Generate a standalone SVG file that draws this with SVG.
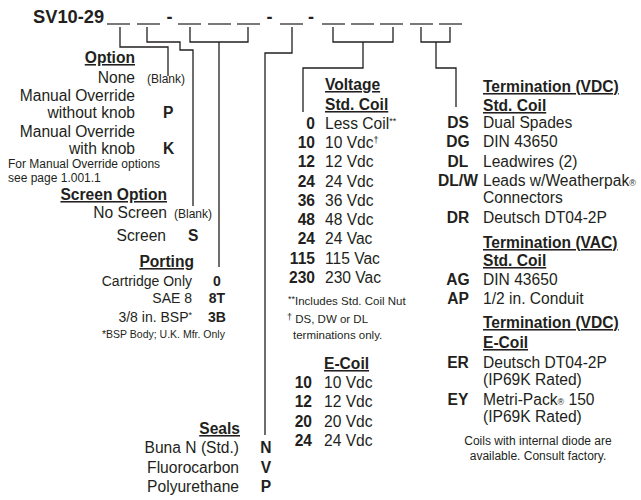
<svg xmlns="http://www.w3.org/2000/svg" width="641" height="500" viewBox="0 0 641 500">
<style>
text{font-family:"Liberation Sans",Arial,sans-serif;fill:#231f20;font-size:15.6px}
.b{font-weight:bold}
.h{font-weight:bold;text-decoration:underline}
.e{text-anchor:end}
.m{text-anchor:middle}
.s12{font-size:12px}
.s11{font-size:11.5px}
.s10{font-size:10.5px}
.p14{font-size:14px}
.sup{font-size:9px}
.ln{fill:none;stroke:#231f20;stroke-width:1.3}
.bl{stroke:#231f20;stroke-width:1.2}
</style>
<rect width="641" height="500" fill="#ffffff"/>
<g id="header">
<text x="33" y="22.5" class="b" style="font-size:18.3px">SV10-29</text>
<g class="bl">
<line x1="107" y1="24" x2="130" y2="24"/>
<line x1="137" y1="24" x2="160" y2="24"/>
<line x1="178" y1="24" x2="201" y2="24"/>
<line x1="208" y1="24" x2="231" y2="24"/>
<line x1="237" y1="24" x2="260" y2="24"/>
<line x1="280" y1="24" x2="303" y2="24"/>
<line x1="322" y1="24" x2="345" y2="24"/>
<line x1="351" y1="24" x2="374" y2="24"/>
<line x1="380" y1="24" x2="403" y2="24"/>
<line x1="410" y1="24" x2="433" y2="24"/>
<line x1="439" y1="24" x2="462" y2="24"/>
</g>
<text x="169.5" y="22.5" class="b m" style="font-size:18px">-</text>
<text x="269.5" y="22.5" class="b m" style="font-size:18px">-</text>
<text x="311" y="22.5" class="b m" style="font-size:18px">-</text>
</g>
<g id="connectors">
<path class="ln" d="M120,27 V47 H168 V76"/>
<path class="ln" d="M147,27 V42 H180 V50 H193 V206"/>
<path class="ln" d="M190,27 V42 H248 V27 M219,42 V267"/>
<path class="ln" d="M292,27 V53 H265 V435"/>
<path class="ln" d="M333,27 V42 H393 V27 M363,42 V68 H303 V112"/>
<path class="ln" d="M421,27 V42 H450 V27 M436,42 V68 H456 V107"/>
</g>
<g id="option">
<text x="135" y="63" class="h e">Option</text>
<text x="135" y="83" class="e">None</text>
<text x="147" y="83" class="s12">(Blank)</text>
<text x="135" y="101" class="e">Manual Override</text>
<text x="135" y="118" class="e">without knob</text>
<text x="163" y="118" class="b">P</text>
<text x="135" y="137" class="e">Manual Override</text>
<text x="135" y="154" class="e">with knob</text>
<text x="163" y="154" class="b">K</text>
<text x="8" y="168" class="s12">For Manual Override options</text>
<text x="8" y="182" class="s12">see page 1.001.1</text>
</g>
<g id="screen">
<text x="167" y="200" class="h e">Screen Option</text>
<text x="167" y="218" class="e">No Screen</text>
<text x="174" y="218" class="s12">(Blank)</text>
<text x="166" y="241" class="e">Screen</text>
<text x="188" y="241" class="b">S</text>
</g>
<g id="porting">
<text x="194" y="267" class="h e">Porting</text>
<text x="192" y="286" class="e p14">Cartridge Only</text>
<text x="217" y="286" class="b m p14">0</text>
<text x="192" y="303" class="e p14">SAE 8</text>
<text x="217" y="303" class="b m p14">8T</text>
<text x="192" y="322" class="e p14">3/8 in. BSP<tspan class="sup" dy="-4">*</tspan></text>
<text x="217" y="322" class="b m p14">3B</text>
<text x="102" y="338" class="s10">*BSP Body; U.K. Mfr. Only</text>
</g>
<g id="seals">
<text x="240" y="434" class="h e">Seals</text>
<text x="239" y="453" class="e">Buna N (Std.)</text>
<text x="266" y="453" class="b m">N</text>
<text x="239" y="473" class="e">Fluorocarbon</text>
<text x="266" y="473" class="b m">V</text>
<text x="239" y="492" class="e">Polyurethane</text>
<text x="266" y="492" class="b m">P</text>
</g>
<g id="voltage">
<text x="325" y="90" class="h">Voltage</text>
<text x="325" y="110" class="h">Std. Coil</text>
<text x="315" y="129" class="b e">0</text><text x="325" y="129">Less Coil<tspan class="sup" dy="-5">**</tspan></text>
<text x="315" y="148" class="b e">10</text><text x="325" y="148">10 Vdc<tspan class="sup" dy="-5">†</tspan></text>
<text x="315" y="167" class="b e">12</text><text x="325" y="167">12 Vdc</text>
<text x="315" y="187" class="b e">24</text><text x="325" y="187">24 Vdc</text>
<text x="315" y="206" class="b e">36</text><text x="325" y="206">36 Vdc</text>
<text x="315" y="225" class="b e">48</text><text x="325" y="225">48 Vdc</text>
<text x="315" y="244" class="b e">24</text><text x="325" y="244">24 Vac</text>
<text x="315" y="264" class="b e">115</text><text x="325" y="264">115 Vac</text>
<text x="315" y="283" class="b e">230</text><text x="325" y="283">230 Vac</text>
<text x="288" y="305" class="s11"><tspan class="sup" dy="-3">**</tspan><tspan dy="3">Includes Std. Coil Nut</tspan></text>
<text x="287" y="323" class="s11"><tspan class="sup" dy="-3">†</tspan><tspan dy="3"> DS, DW or DL</tspan></text>
<text x="293" y="339" class="s11">terminations only.</text>
</g>
<g id="ecoil">
<text x="324" y="369" class="h">E-Coil</text>
<text x="312" y="388" class="b e">10</text><text x="324" y="388">10 Vdc</text>
<text x="312" y="407" class="b e">12</text><text x="324" y="407">12 Vdc</text>
<text x="312" y="427" class="b e">20</text><text x="324" y="427">20 Vdc</text>
<text x="312" y="446" class="b e">24</text><text x="324" y="446">24 Vdc</text>
</g>
<g id="termination-vdc">
<text x="483" y="92" class="h">Termination (VDC)</text>
<text x="483" y="111" class="h">Std. Coil</text>
<text x="458" y="128" class="b m">DS</text><text x="483" y="128">Dual Spades</text>
<text x="458" y="147" class="b m">DG</text><text x="483" y="147">DIN 43650</text>
<text x="458" y="167" class="b m">DL</text><text x="483" y="167">Leadwires (2)</text>
<text x="458" y="186" class="b m">DL/W</text><text x="483" y="186">Leads w/Weatherpak<tspan class="sup">®</tspan></text>
<text x="483" y="203">Connectors</text>
<text x="458" y="223" class="b m">DR</text><text x="483" y="223">Deutsch DT04-2P</text>
</g>
<g id="termination-vac">
<text x="483" y="248" class="h">Termination (VAC)</text>
<text x="483" y="266" class="h">Std. Coil</text>
<text x="458" y="285" class="b m">AG</text><text x="483" y="285">DIN 43650</text>
<text x="458" y="304" class="b m">AP</text><text x="483" y="304">1/2 in. Conduit</text>
</g>
<g id="termination-ecoil">
<text x="483" y="328" class="h">Termination (VDC)</text>
<text x="483" y="348" class="h">E-Coil</text>
<text x="458" y="368" class="b m">ER</text><text x="483" y="368">Deutsch DT04-2P</text>
<text x="483" y="385">(IP69K Rated)</text>
<text x="458" y="405" class="b m">EY</text><text x="483" y="405">Metri-Pack<tspan class="sup">®</tspan> 150</text>
<text x="483" y="422">(IP69K Rated)</text>
</g>
<g id="note">
<text x="538" y="445" class="s12 m">Coils with internal diode are</text>
<text x="538" y="460" class="s12 m">available. Consult factory.</text>
</g>
</svg>
